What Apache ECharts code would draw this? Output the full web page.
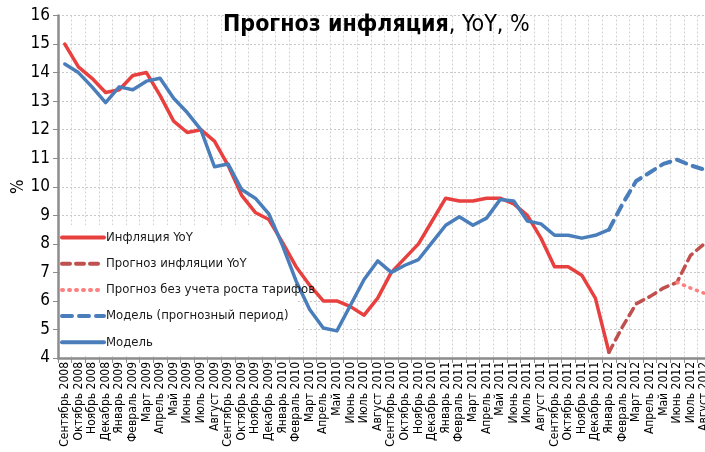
<!DOCTYPE html>
<html>
<head>
<meta charset="utf-8">
<script src="https://cdn.jsdelivr.net/npm/echarts@6/dist/echarts.min.js"></script>
<style>
  html, body { margin: 0; padding: 0; background: #fff; }
  #chart { width: 705px; height: 452px; }
</style>
</head>
<body>
<div id="chart"></div>
<script>
const FONT = '"Liberation Sans Narrow", "DejaVu Sans Condensed", "Arial Narrow", sans-serif'

const categories = [
  'Сентябрь 2008', 'Октябрь 2008', 'Ноябрь 2008', 'Декабрь 2008',
  'Январь 2009', 'Февраль 2009', 'Март 2009', 'Апрель 2009', 'Май 2009', 'Июнь 2009',
  'Июль 2009', 'Август 2009', 'Сентябрь 2009', 'Октябрь 2009', 'Ноябрь 2009', 'Декабрь 2009',
  'Январь 2010', 'Февраль 2010', 'Март 2010', 'Апрель 2010', 'Май 2010', 'Июнь 2010',
  'Июль 2010', 'Август 2010', 'Сентябрь 2010', 'Октябрь 2010', 'Ноябрь 2010', 'Декабрь 2010',
  'Январь 2011', 'Февраль 2011', 'Март 2011', 'Апрель 2011', 'Май 2011', 'Июнь 2011',
  'Июль 2011', 'Август 2011', 'Сентябрь 2011', 'Октябрь 2011', 'Ноябрь 2011', 'Декабрь 2011',
  'Январь 2012', 'Февраль 2012', 'Март 2012', 'Апрель 2012', 'Май 2012', 'Июнь 2012',
  'Июль 2012', 'Август 2012'
]

// Sep 2008 .. Jan 2012
const inflation = [15.0, 14.2, 13.8, 13.3, 13.4, 13.9, 14.0, 13.2, 12.3, 11.9, 12.0, 11.6,
  10.75, 9.7, 9.1, 8.85, 8.05, 7.2, 6.55, 6.0, 6.0, 5.8, 5.5, 6.1, 7.0, 7.5, 8.0, 8.8,
  9.6, 9.5, 9.5, 9.6, 9.6, 9.4, 9.0, 8.2, 7.2, 7.2, 6.9, 6.1, 4.2]
// Jan 2012 .. Aug 2012
const inflationForecast = [4.2, 5.1, 5.9, 6.15, 6.45, 6.65, 7.6, 8.0]
// Jun 2012 .. Aug 2012
const noTariffForecast = [6.65, 6.45, 6.27]
// Sep 2008 .. Jan 2012
const model = [14.3, 14.0, 13.5, 12.95, 13.5, 13.4, 13.7, 13.8, 13.1, 12.6, 12.0, 10.7,
  10.8, 9.9, 9.6, 9.05, 7.95, 6.7, 5.7, 5.05, 4.95, 5.85, 6.75, 7.4, 7.0, 7.25, 7.45, 8.05,
  8.65, 8.95, 8.65, 8.9, 9.55, 9.5, 8.8, 8.7, 8.3, 8.3, 8.2, 8.3, 8.5]
// Jan 2012 .. Aug 2012
const modelForecast = [8.5, 9.4, 10.2, 10.5, 10.8, 10.95, 10.75, 10.6]

const pad = (arr, start) => {
  const out = new Array(categories.length).fill(null)
  arr.forEach((v, i) => { out[start + i] = v })
  return out
}

const chart = echarts.init(document.getElementById('chart'))

const lineSeries = (name, data, color, type, width) => ({
  name,
  type: 'line',
  data,
  symbol: 'none',
  connectNulls: false,
  lineStyle: { color, width, type, cap: 'round', join: 'round' },
  itemStyle: { color },
  emphasis: { disabled: true }
})

chart.setOption({
  animation: false,
  backgroundColor: '#fff',
  textStyle: { fontFamily: FONT },
  title: {
    text: '{b|Прогноз инфляция}{n|, YoY, %}',
    left: 218,
    top: 9,
    textStyle: {
      rich: {
        b: { fontFamily: FONT, fontWeight: 'bold', fontSize: 23, color: '#000' },
        n: { fontFamily: FONT, fontWeight: 'normal', fontSize: 23, color: '#000' }
      }
    }
  },
  // white box behind the legend hides the grid there, lines still draw over it
  graphic: [{
    type: 'rect',
    z: 1,
    silent: true,
    shape: { x: 60, y: 225, width: 236, height: 131 },
    style: { fill: '#fff' }
  }],
  grid: { left: 58, right: -6, top: 15.5, bottom: 94, outerBoundsMode: 'none' },
  legend: {
    orient: 'vertical',
    left: 59,
    top: 227,
    itemWidth: 42,
    itemHeight: 14,
    itemGap: 13.2,
    padding: [4, 6, 4, 1],
    itemStyle: { opacity: 0 },
    lineStyle: { width: 4 },
    textStyle: { fontFamily: FONT, fontSize: 13, color: '#1a1a1a', padding: [0, 0, 0, -3] },
    data: ['Инфляция YoY', 'Прогноз инфляции YoY', 'Прогноз без учета роста тарифов',
      'Модель (прогнозный период)', 'Модель']
  },
  xAxis: {
    type: 'category',
    data: categories,
    boundaryGap: true,
    axisLine: { lineStyle: { color: '#8c8c8c', width: 2.5 } },
    axisTick: { show: true, interval: 0, length: 5, lineStyle: { color: '#8c8c8c' } },
    axisLabel: {
      interval: 0,
      rotate: 90,
      margin: 4,
      fontFamily: FONT,
      fontSize: 12,
      color: '#000'
    },
    splitLine: { show: true, interval: 0, lineStyle: { color: '#d2d2d2', type: [2, 2], width: 1 } }
  },
  yAxis: {
    type: 'value',
    min: 4,
    max: 16,
    interval: 1,
    name: '%',
    nameLocation: 'middle',
    nameGap: 31,
    nameMoveOverlap: false,
    nameRotate: 90,
    nameTextStyle: { fontFamily: FONT, fontSize: 17, color: '#000' },
    axisLine: { show: true, lineStyle: { color: '#8c8c8c', width: 2.5 } },
    axisTick: { show: true, length: 5, lineStyle: { color: '#8c8c8c' } },
    axisLabel: { fontFamily: FONT, fontSize: 17, color: '#000', margin: 8 },
    splitLine: { show: true, lineStyle: { color: '#c8c8c8', type: [2, 2], width: 1 } }
  },
  series: [
    lineSeries('Инфляция YoY', pad(inflation, 0), '#E8403F', 'solid', 3.5),
    lineSeries('Прогноз инфляции YoY', pad(inflationForecast, 40), '#C0504D', [8, 6], 3.5),
    lineSeries('Прогноз без учета роста тарифов', pad(noTariffForecast, 45), '#FF8080', [1, 6], 3.5),
    lineSeries('Модель (прогнозный период)', pad(modelForecast, 40), '#4A7EBB', [10, 7], 4),
    lineSeries('Модель', pad(model, 0), '#4A7EBB', 'solid', 3.5)
  ]
})
</script>
</body>
</html>
